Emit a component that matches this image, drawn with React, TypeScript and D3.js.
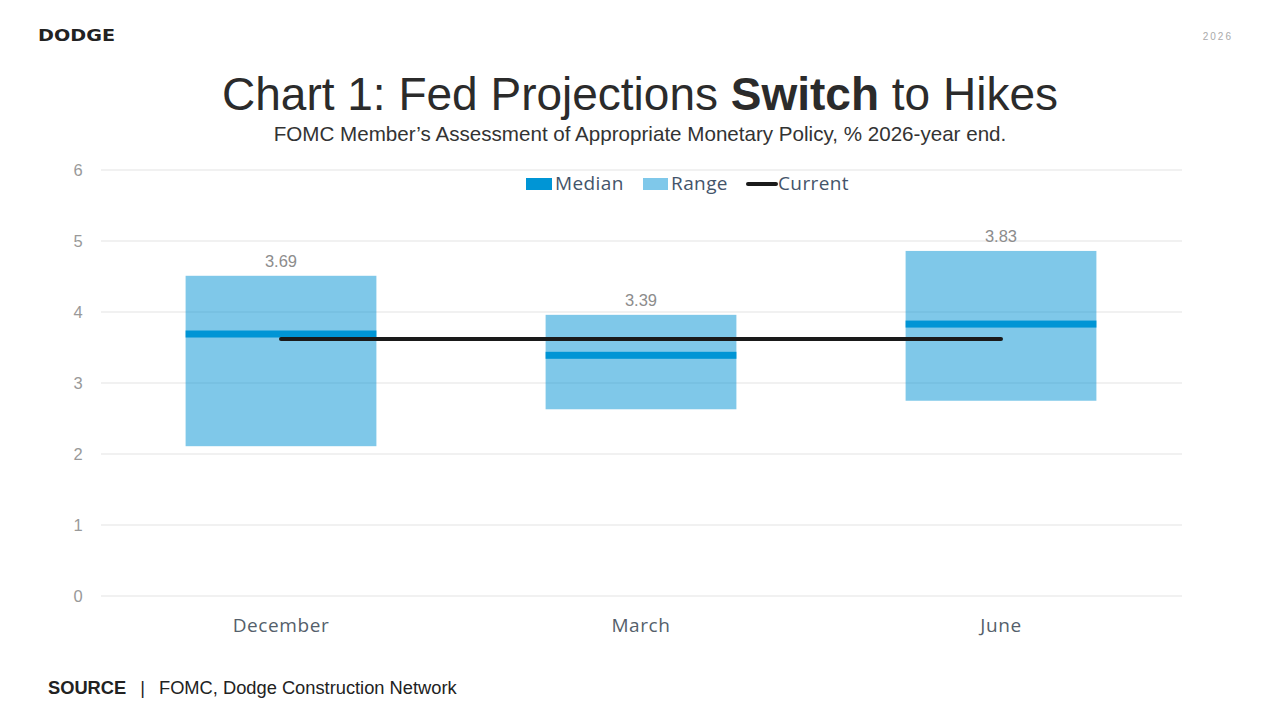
import React, { useEffect, useRef } from 'react'
import * as d3 from 'd3'

// FOMC dot plot summary, % at 2026 year end
const meetings = ['December', 'March', 'June']
const medians = [3.69, 3.39, 3.83]
const rangeLow = [2.11, 2.63, 2.75]
const rangeHigh = [4.51, 3.96, 4.86]
const currentRate = 3.62
const yTicks = [0, 1, 2, 3, 4, 5, 6]

const W = 1280
const H = 720
const labelFont = "'Liberation Sans', Arial, sans-serif"
const axisFont = "'Open Sans', 'Noto Sans', sans-serif"

export default function App() {
    const ref = useRef<SVGSVGElement | null>(null)

    function drawChart() {
        const svg = d3.select(ref.current)
        svg.selectAll('*').remove()
        svg.attr('width', W).attr('height', H)

        const x = d3.scaleBand<string>()
            .domain(meetings)
            .range([101, 1181])
            .paddingInner(0.47)
            .paddingOuter(0.235)
        const y = d3.scaleLinear().domain([0, 6]).range([596, 170])

        // header
        svg.append('text')
            .attr('x', 38).attr('y', 41)
            .attr('textLength', 77)
            .attr('lengthAdjust', 'spacingAndGlyphs')
            .style('font-family', "'DejaVu Sans', sans-serif")
            .style('font-weight', 700)
            .style('font-size', '15px')
            .attr('fill', '#222')
            .text('DODGE')
        svg.append('text')
            .attr('x', 1233).attr('y', 40)
            .attr('text-anchor', 'end')
            .style('font-family', labelFont)
            .style('font-size', '10px')
            .style('letter-spacing', '2px')
            .attr('fill', '#aaa')
            .text('2026')

        const title = svg.append('text')
            .attr('x', 640).attr('y', 110)
            .attr('text-anchor', 'middle')
            .style('font-family', labelFont)
            .style('font-size', '46px')
            .attr('fill', '#2b2b2b')
        title.append('tspan').text('Chart 1: Fed Projections ')
        title.append('tspan').style('font-weight', 700).text('Switch')
        title.append('tspan').text(' to Hikes')

        svg.append('text')
            .attr('x', 640).attr('y', 141)
            .attr('text-anchor', 'middle')
            .style('font-family', labelFont)
            .style('font-size', '20.6px')
            .attr('fill', '#333')
            .text('FOMC Member\u2019s Assessment of Appropriate Monetary Policy, % 2026-year end.')

        // grid + y labels
        const g = svg.append('g')
        g.selectAll('line.grid')
            .data(yTicks)
            .enter().append('line')
            .attr('class', 'grid')
            .attr('x1', 101).attr('x2', 1182)
            .attr('y1', d => y(d)).attr('y2', d => y(d))
            .attr('stroke', '#e3e3e3')
            .attr('stroke-width', 1)
        g.selectAll('text.ytick')
            .data(yTicks)
            .enter().append('text')
            .attr('class', 'ytick')
            .attr('x', 78).attr('y', d => y(d) + 6)
            .attr('text-anchor', 'middle')
            .style('font-family', labelFont)
            .style('font-size', '16.5px')
            .attr('fill', '#999')
            .text(d => d)

        // range boxes
        g.selectAll('rect.range')
            .data(meetings)
            .enter().append('rect')
            .attr('class', 'range')
            .attr('x', d => x(d)!)
            .attr('width', x.bandwidth())
            .attr('y', (d, i) => y(rangeHigh[i]))
            .attr('height', (d, i) => y(rangeLow[i]) - y(rangeHigh[i]))
            .attr('fill', 'rgba(0,146,212,0.5)')

        // median bars
        g.selectAll('rect.median')
            .data(meetings)
            .enter().append('rect')
            .attr('class', 'median')
            .attr('x', d => x(d)!)
            .attr('width', x.bandwidth())
            .attr('y', (d, i) => y(medians[i]) - 3.5)
            .attr('height', 7)
            .attr('fill', '#0095d5')

        g.selectAll('text.value')
            .data(meetings)
            .enter().append('text')
            .attr('class', 'value')
            .attr('x', d => x(d)! + x.bandwidth() / 2)
            .attr('y', (d, i) => y(rangeHigh[i]) - 9)
            .attr('text-anchor', 'middle')
            .style('font-family', labelFont)
            .style('font-size', '16.5px')
            .attr('fill', '#8c8c8c')
            .text((d, i) => medians[i].toFixed(2))

        // current rate line across category centres
        const mid = (d: string) => x(d)! + x.bandwidth() / 2
        g.append('path')
            .datum(meetings)
            .attr('d', d3.line<string>().x(d => mid(d)).y(() => y(currentRate)))
            .attr('stroke', '#1a1a1a')
            .attr('stroke-width', 4)
            .attr('stroke-linecap', 'round')
            .attr('fill', 'none')

        // x labels
        g.selectAll('text.xlab')
            .data(meetings)
            .enter().append('text')
            .attr('class', 'xlab')
            .attr('x', d => mid(d))
            .attr('y', 632)
            .attr('text-anchor', 'middle')
            .style('font-family', axisFont)
            .style('font-size', '19px')
            .style('letter-spacing', '0.6px')
            .attr('fill', '#555f6b')
            .text(d => d)

        // legend
        const lg = svg.append('g')
            .style('font-family', axisFont)
            .style('font-size', '19px')
            .style('letter-spacing', '0.4px')
        lg.append('rect').attr('x', 526).attr('y', 178).attr('width', 26).attr('height', 12).attr('fill', '#0095d5')
        lg.append('text').attr('x', 555).attr('y', 190).attr('fill', '#44546a').text('Median')
        lg.append('rect').attr('x', 643).attr('y', 178).attr('width', 25).attr('height', 12).attr('fill', '#7fc8ea')
        lg.append('text').attr('x', 671).attr('y', 190).attr('fill', '#44546a').text('Range')
        lg.append('line').attr('x1', 748).attr('x2', 776).attr('y1', 184).attr('y2', 184)
            .attr('stroke', '#1a1a1a').attr('stroke-width', 4).attr('stroke-linecap', 'round')
        lg.append('text').attr('x', 778).attr('y', 190).attr('fill', '#44546a').text('Current')

        // source
        const src = svg.append('text')
            .attr('x', 48).attr('y', 694)
            .style('font-family', labelFont)
            .style('font-size', '18.3px')
            .attr('fill', '#222')
        src.append('tspan').style('font-weight', 700).text('SOURCE')
        src.append('tspan').attr('dx', 14).text('|')
        src.append('tspan').attr('dx', 14).text('FOMC, Dodge Construction Network')
    }

    useEffect(() => {
        drawChart()
    }, [])

    return (
        <div style={{ position: 'absolute', left: 0, top: 0 }}>
            <svg ref={ref} style={{ display: 'block' }} />
        </div>
    )
}
